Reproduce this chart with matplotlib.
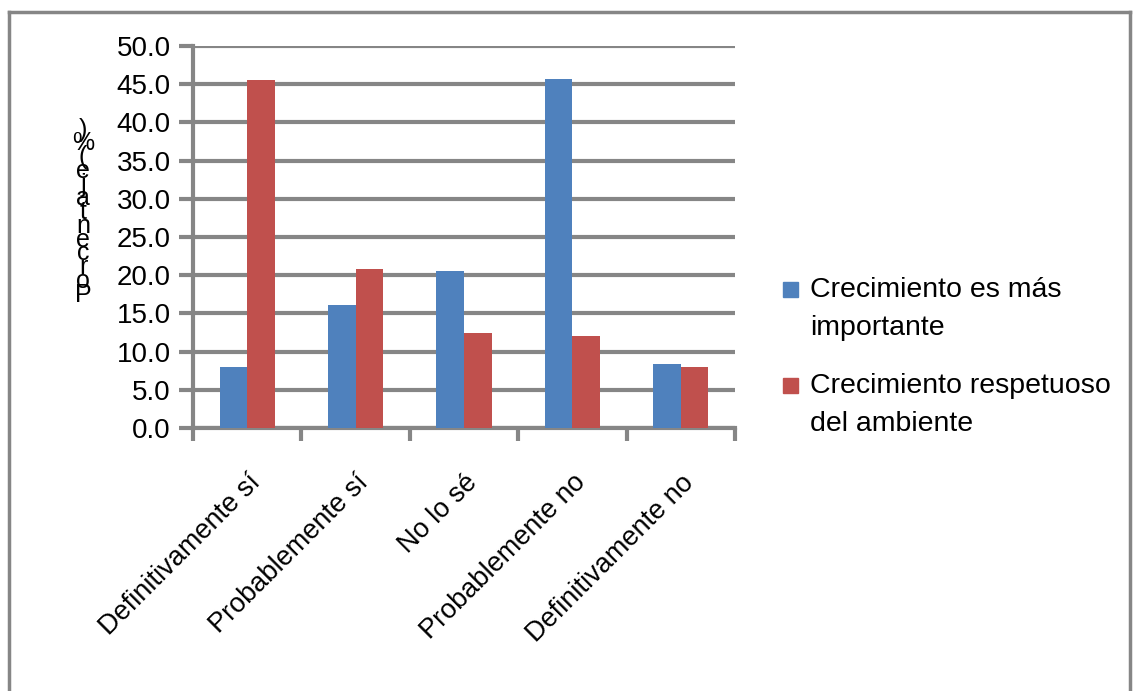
import matplotlib
matplotlib.use("Agg")
import matplotlib.pyplot as plt
from matplotlib.lines import Line2D
from matplotlib.patches import Rectangle
import numpy as np

categories = ["Definitivamente sí", "Probablemente sí", "No lo sé",
              "Probablemente no", "Definitivamente no"]
crecimiento = [8.0, 16.1, 20.5, 45.7, 8.4]
respetuoso = [45.5, 20.8, 12.4, 12.1, 8.0]
series_names = ["Crecimiento es más\nimportante", "Crecimiento respetuoso\ndel ambiente"]
yticks = np.arange(0, 50.1, 5)

blue = "#4F81BD"
red = "#C0504D"
grey = "#868686"

plt.rcParams['font.family'] = ['Liberation Sans', 'DejaVu Sans']

W, H = 1138, 691
fig = plt.figure(figsize=(W / 100, H / 100), dpi=100)
ax = fig.add_axes([0.1696, 0.3806, 0.4763, 0.5528])

x = np.arange(len(categories))
w = 0.255
ax.bar(x - w / 2, crecimiento, w, color=blue, zorder=3)
ax.bar(x + w / 2, respetuoso, w, color=red, zorder=3)

ax.set_xlim(-0.5, len(categories) - 0.5)
ax.set_ylim(0, 50)
ax.set_yticks(yticks)
ax.set_yticklabels([f"{v:.1f}" for v in yticks], fontsize=20)
ax.yaxis.grid(True, color=grey, linewidth=3, zorder=0)
ax.set_axisbelow(True)

# ticks at the category boundaries, labels centred on the groups
ax.set_xticks(np.arange(-0.5, len(categories), 1.0))
ax.set_xticklabels([])
ax.set_xticks(x, minor=True)
ax.set_xticklabels(categories, minor=True, rotation=45, ha="right",
                   rotation_mode="anchor", fontsize=19.5)
ax.tick_params(axis="x", which="minor", length=0, pad=30)
ax.tick_params(axis="x", which="major", length=9, width=3, color=grey)
ax.tick_params(axis="y", length=10, width=3, color=grey, pad=6)

for side in ["top", "right"]:
    ax.spines[side].set_visible(False)
for side in ["left", "bottom"]:
    ax.spines[side].set_color(grey)
    ax.spines[side].set_linewidth(3)

# vertical stacked axis label as in the original
label = "Porcentaje(%)"
fig.text(0.073, 0.693, "\n".join(reversed(label)), fontsize=18,
         ha="center", va="center", linespacing=0.46)

# legend: square next to the first line of each two-line entry
for i, (name, col) in enumerate(zip(series_names, [blue, red])):
    ytop = 289 + i * 96
    fig.add_artist(Rectangle((783 / W, 1 - (ytop + 7.5) / H), 15 / W, 15 / H,
                             color=col, transform=fig.transFigure))
    fig.text(810 / W, 1 - (ytop - 12) / H, name, fontsize=20.5,
             ha="left", va="top", linespacing=1.6)

# outer frame of the chart area
for xs, ys in [([0.008, 0.993], [0.982, 0.982]),
               ([0.008, 0.008], [0.0, 0.982]),
               ([0.993, 0.993], [0.0, 0.982])]:
    fig.add_artist(Line2D(xs, ys, color=grey, linewidth=2.5,
                          transform=fig.transFigure))

fig.savefig("out.png", dpi=100)
